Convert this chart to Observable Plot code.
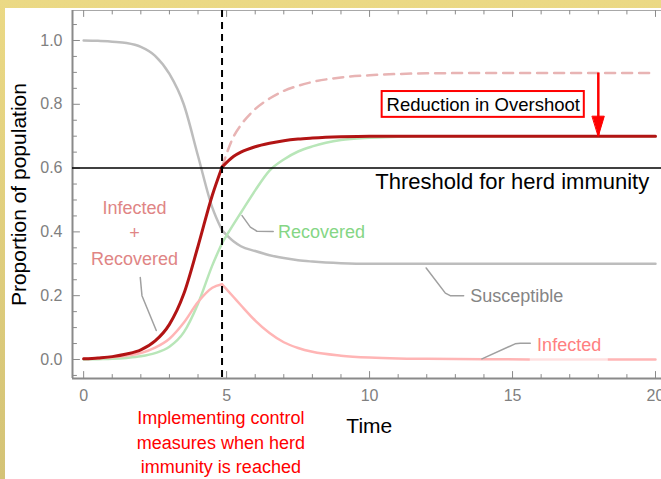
<!DOCTYPE html>
<html><head><meta charset="utf-8">
<script src="https://cdn.jsdelivr.net/npm/d3@7"></script>
<script src="https://cdn.jsdelivr.net/npm/@observablehq/plot@0.6"></script>
<style>
html,body{margin:0;padding:0;overflow:hidden;}
body{width:661px;height:479px;background:linear-gradient(#ebd985,#d4c376);}
#chart{position:absolute;left:5px;top:8px;width:656px;height:471px;background:#fff;}
#chart svg{display:block;}
</style></head><body><div id="chart"></div>
<script>
// ---- data ----
const controlTime = 4.84;
const timeBefore = [0, 0.5, 1, 1.5, 2, 2.5, 3, 3.5, 4, 4.5, 4.84];
const susceptibleBefore = [1.0, 0.999, 0.996, 0.992, 0.98, 0.952, 0.895, 0.8, 0.638, 0.476, 0.405];
const infectedBefore = [0.002, 0.004, 0.007, 0.012, 0.02, 0.037, 0.065, 0.115, 0.18, 0.225, 0.236];
const recoveredBefore = [0.0, 0.001, 0.002, 0.005, 0.01, 0.02, 0.04, 0.085, 0.175, 0.295, 0.365];
const infRecBefore = [0.002, 0.005, 0.009, 0.017, 0.03, 0.058, 0.11, 0.205, 0.355, 0.515, 0.603];

const timeAfter = [4.84, 5.25, 5.5, 6, 6.5, 7, 7.5, 8, 9, 10, 11, 12, 14, 16, 18, 20];
const susceptibleAfter = [0.405, 0.37, 0.355, 0.34, 0.327, 0.318, 0.311, 0.307, 0.302, 0.3, 0.3, 0.3, 0.3, 0.3, 0.3, 0.3];
const infectedAfter = [0.236, 0.195, 0.17, 0.122, 0.083, 0.054, 0.036, 0.024, 0.012, 0.006, 0.003, 0.002, 0.001, 0, 0, 0];
const recoveredAfter = [0.365, 0.425, 0.46, 0.53, 0.592, 0.627, 0.652, 0.668, 0.688, 0.695, 0.698, 0.7, 0.7, 0.7, 0.7, 0.7];
const infRecAfter = [0.603, 0.637, 0.65, 0.667, 0.678, 0.686, 0.691, 0.694, 0.698, 0.7, 0.7, 0.7, 0.7, 0.7, 0.7, 0.7];

const timeNoControl = [4.84, 5.25, 5.5, 6, 6.5, 7, 7.5, 8, 9, 10, 11, 12, 14, 16, 18, 20];
const infRecNoControl = [0.603, 0.7, 0.735, 0.785, 0.818, 0.842, 0.858, 0.87, 0.884, 0.891, 0.895, 0.897, 0.898, 0.898, 0.898, 0.898];

const threshold = 0.6;
const finalWithControl = 0.7;
const finalNoControl = 0.898;

const xMajorTicks = [0, 5, 10, 15, 20];
const xMinorTicks = d3.range(0, 21).filter(d => d % 5 !== 0);
const yMajorTicks = [0, 0.2, 0.4, 0.6, 0.8, 1.0];
const yMinorTicks = d3.range(-1, 22).map(d => d * 0.05).filter(d => Math.abs(d / 0.2 - Math.round(d / 0.2)) > 1e-6);
const xDomain = [-0.39, 20.21];
const yDomain = [-0.0596, 1.094];

// ---- annotation layout (data coordinates) ----
const calloutIR = [[1.98, 0.257], [2.04, 0.2], [2.54, 0.091]];
const calloutR = [[5.54, 0.451], [5.83, 0.415], [6.06, 0.402], [6.63, 0.401]];
const calloutS = [[11.98, 0.287], [12.65, 0.208], [12.82, 0.2], [13.29, 0.2]];
const calloutI = [[13.93, 0.002], [15.09, 0.049], [15.27, 0.051], [15.62, 0.051]];
const arrowTime = 18.0;
const boxSpan = {t1: 10.44, t2: 17.51, v1: 0.759, v2: 0.840};

// ---- build rows ----
function rows(t, v, phase) { return t.map((d, i) => ({t: d, v: v[i], phase})); }
const S = rows(timeBefore, susceptibleBefore, "a").concat(rows(timeAfter, susceptibleAfter, "b"));
const I = rows(timeBefore, infectedBefore, "a").concat(rows(timeAfter, infectedAfter, "b"));
const R = rows(timeBefore, recoveredBefore, "a").concat(rows(timeAfter, recoveredAfter, "b"));
const IR = rows(timeBefore, infRecBefore, "a").concat(rows(timeAfter, infRecAfter, "b"));
const NC = rows(timeNoControl, infRecNoControl, "c");

const tickShape = {draw(ctx, l) { ctx.moveTo(0, 0); ctx.lineTo(0, -l); }};
const headShape = {draw(ctx, l) { ctx.moveTo(0, -l); ctx.lineTo(-6, 0); ctx.lineTo(6, 0); ctx.closePath(); }};
const axisColor = "#8a8a8a";
const ln = (data, stroke, w, extra = {}) => Plot.line(data, {x: "t", y: "v", z: "phase", stroke, strokeWidth: w, curve: "monotone-x", ...extra});
const callout = (data) => Plot.line(data, {x: d => d[0], y: d => d[1], stroke: "#a0a0a0", strokeWidth: 1.5});

const chart = Plot.plot({
  width: 656, height: 471,
  marginLeft: 67, marginRight: 0, marginTop: 2, marginBottom: 101,
  x: {domain: xDomain},
  y: {domain: yDomain},
  style: {fontFamily: "'Liberation Sans', Arial, sans-serif", background: "white"},
  marks: [
    // frame and axes
    Plot.ruleY([yDomain[1]], {stroke: "#a8a8a8", strokeWidth: 1}),
    Plot.ruleX([xDomain[0]], {stroke: axisColor, strokeWidth: 2}),
    Plot.ruleY([yDomain[0]], {stroke: axisColor, strokeWidth: 2}),
    Plot.vector(xMinorTicks, {x: d => d, frameAnchor: "bottom", length: 4, anchor: "start", shape: tickShape, stroke: axisColor, strokeWidth: 1}),
    Plot.vector(xMajorTicks, {x: d => d, frameAnchor: "bottom", length: 7, anchor: "start", shape: tickShape, stroke: axisColor, strokeWidth: 1}),
    Plot.vector(xMinorTicks, {x: d => d, frameAnchor: "top", rotate: 180, length: 3.5, anchor: "start", shape: tickShape, stroke: axisColor, strokeWidth: 1}),
    Plot.vector(xMajorTicks, {x: d => d, frameAnchor: "top", rotate: 180, length: 6, anchor: "start", shape: tickShape, stroke: axisColor, strokeWidth: 1}),
    Plot.vector(yMinorTicks, {y: d => d, frameAnchor: "left", rotate: 90, length: 4, anchor: "start", shape: tickShape, stroke: axisColor, strokeWidth: 1}),
    Plot.vector(yMajorTicks, {y: d => d, frameAnchor: "left", rotate: 90, length: 7, anchor: "start", shape: tickShape, stroke: axisColor, strokeWidth: 1}),
    Plot.axisX({ticks: xMajorTicks, tickSize: 0, tickPadding: 11, fontSize: 16, color: "#808080", label: null}),
    Plot.axisY({ticks: yMajorTicks, tickSize: 0, tickPadding: 10, fontSize: 16, color: "#808080", label: null, tickFormat: d3.format(".1f")}),

    // curves
    ln(S, "#bdbdbd", 2.5),
    ln(R, "#b8e6b8", 2.5),
    ln(I, "#ffb5b5", 2.5),
    Plot.ruleY([0], {x1: 15.62, x2: 18.35, stroke: "white", strokeOpacity: 0.6, strokeWidth: 3.5}),
    ln(NC, "#e8b4b4", 2.5, {strokeDasharray: "10,7"}),
    ln(IR, "#b21414", 3),

    // threshold and control time
    Plot.ruleY([threshold], {stroke: "black", strokeWidth: 1.5}),
    Plot.ruleX([controlTime], {stroke: "black", strokeWidth: 2, strokeDasharray: "7,5"}),

    // callouts
    callout(calloutIR), callout(calloutR), callout(calloutS), callout(calloutI),

    // overshoot annotation
    Plot.rect([boxSpan], {x1: "t1", x2: "t2", y1: "v1", y2: "v2", fill: "white", stroke: "#ff0000", strokeWidth: 2}),
    Plot.text(["Reduction in Overshoot"], {x: (boxSpan.t1 + boxSpan.t2) / 2, y: 0.799, text: d => d, fontSize: 18.5, fill: "black"}),
    Plot.ruleX([arrowTime], {y1: finalNoControl, y2: finalWithControl, stroke: "#ff0000", strokeWidth: 2.5}),
    Plot.vector([arrowTime], {x: d => d, y: () => finalWithControl, rotate: 180, length: 20, anchor: "end", shape: headShape, fill: "#ff0000", stroke: "#ff0000", strokeWidth: 1}),

    // labels
    Plot.text(["Infected\n+\nRecovered"], {x: 1.78, y: 0.295, text: d => d, lineAnchor: "bottom", lineHeight: 1.44, fontSize: 18, fill: "#e08585"}),
    Plot.text(["Recovered"], {x: 6.8, y: 0.382, text: d => d, textAnchor: "start", lineAnchor: "bottom", fontSize: 18, fill: "#85d685"}),
    Plot.text(["Susceptible"], {x: 13.52, y: 0.179, text: d => d, textAnchor: "start", lineAnchor: "bottom", fontSize: 18, fill: "#858585"}),
    Plot.text(["Infected"], {x: 15.86, y: 0.028, text: d => d, textAnchor: "start", lineAnchor: "bottom", fontSize: 18, fill: "#ff8080"}),
    Plot.text(["Threshold for herd immunity"], {x: 10.2, y: 0.533, text: d => d, textAnchor: "start", lineAnchor: "bottom", fontSize: 22, fill: "black"}),
    Plot.text(["Time"], {x: 9.99, y: -0.232, text: d => d, lineAnchor: "bottom", fontSize: 21, fill: "black"}),
    Plot.text(["Proportion of population"], {x: -2.0, y: 0.517, text: d => d, rotate: -90, lineAnchor: "bottom", fontSize: 21, fill: "black"}),
    Plot.text(["Implementing control\nmeasures when herd\nimmunity is reached"], {x: 4.80, y: -0.357, text: d => d, lineAnchor: "bottom", lineHeight: 1.36, fontSize: 18, fill: "#ff0000"})
  ]
});
document.getElementById("chart").append(chart);
</script></body></html>
